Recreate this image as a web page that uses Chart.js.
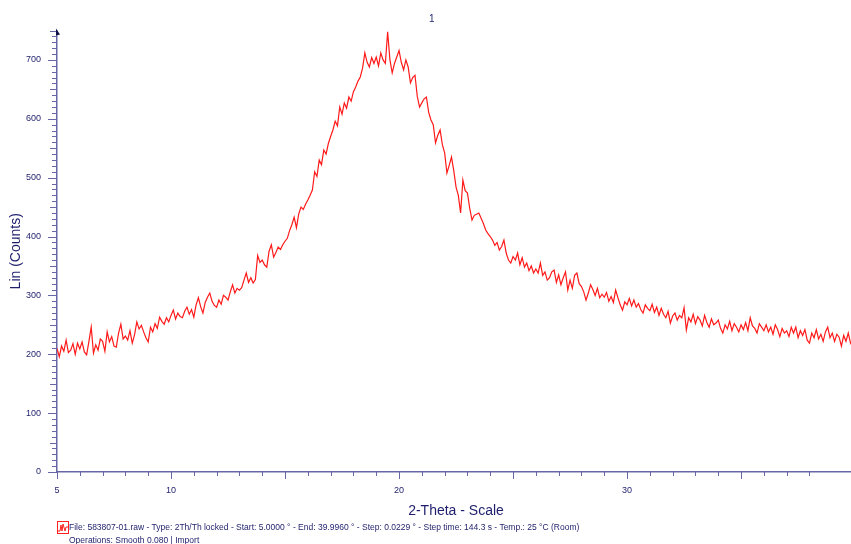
<!DOCTYPE html>
<html>
<head>
<meta charset="utf-8">
<script src="https://cdn.jsdelivr.net/npm/chart.js@4.4.1/dist/chart.umd.min.js"></script>
<style>
  body { margin: 0; overflow: hidden; background: #fff; }
  #wrap { position: relative; width: 851px; height: 544px; overflow: hidden; }
  #c { position: absolute; left: 0; top: 0; }
  .txt { position: absolute; font-family: 'Liberation Sans', Arial, sans-serif; color: #1e1e6c; white-space: nowrap; }
</style>
</head>
<body>
<div id="wrap">
  <canvas id="c" width="868" height="544"></canvas>
  <div class="txt" style="left:429px; top:13px; font-size:10px;">1</div>
  <svg style="position:absolute; left:57px; top:521px;" width="12" height="13">
    <rect x="0.5" y="0.5" width="11" height="12" fill="#fff" stroke="#ff2020"/>
    <polyline points="1,10 3,10 4,4 5,10 6,3 8,10 9,6 11,6" fill="none" stroke="#ff2020" stroke-width="1"/>
  </svg>
  <div class="txt" style="left:69px; top:522px; font-size:8.5px;">File: 583807-01.raw - Type: 2Th/Th locked - Start: 5.0000 ° - End: 39.9960 ° - Step: 0.0229 ° - Step time: 144.3 s - Temp.: 25 °C (Room)</div>
  <div class="txt" style="left:69px; top:535px; font-size:8.5px;">Operations: Smooth 0.080 | Import</div>
</div>
<script>
// scan settings
var startAngle = 5.0;
var stepAngle = 0.1;
var endAngle = 39.996;

// Lin (Counts), one value every 0.1 deg from 5.0
var counts = [
  210,196,214,205,224,203,207,218,200,219,
  209,221,204,199,222,246,202,216,207,226,
  222,205,238,221,230,214,212,236,251,226,
  231,224,240,219,233,255,243,249,238,228,
  221,246,238,252,244,263,256,251,262,255,
  266,275,260,270,264,262,273,280,268,276,
  263,284,296,281,270,288,297,304,290,283,
  280,292,285,300,297,292,306,318,304,312,
  309,313,326,338,322,330,321,327,368,356,
  360,352,348,375,386,365,373,382,378,386,
  392,397,410,420,433,415,438,450,446,455,
  462,470,479,510,502,530,522,547,540,558,
  570,581,596,588,620,608,627,618,637,630,
  646,654,664,671,686,712,696,688,704,694,
  705,690,712,700,694,748,700,678,694,705,
  716,696,683,700,688,661,670,674,638,620,
  627,634,637,611,598,590,559,572,581,556,
  542,508,521,535,512,484,470,440,496,478,
  474,448,428,436,438,440,431,422,411,405,
  400,394,385,390,377,383,394,372,360,355,
  366,360,372,352,364,348,355,342,350,338,
  345,338,355,334,340,326,330,340,343,322,
  335,318,330,340,309,326,312,334,338,320,
  315,306,292,304,318,310,300,312,296,302,
  297,305,290,298,288,309,296,284,275,289,
  284,295,282,292,280,286,276,270,284,278,
  274,285,271,280,266,278,268,262,273,253,
  265,270,258,266,262,279,241,262,255,268,
  252,264,258,248,266,254,246,260,250,253,
  258,244,236,250,243,256,240,252,246,238,
  250,242,254,240,262,248,244,236,252,246,
  240,250,238,246,234,250,242,230,244,236,
  240,230,246,236,246,228,240,232,242,224,
  219,236,228,242,226,234,222,238,246,228,
  236,222,234,229,214,232,222,236,219,212,
  226
];

var xLabels = [5, 10, 20, 30];
var yLabelStep = 100;

var axisColor = '#6767a6';
var textColor = '#1e1e6c';

var points = [];
for (var i = 0; i < counts.length; i++) {
  points.push({ x: Math.round((startAngle + i * stepAngle) * 1000) / 1000, y: counts[i] });
}

// tick marks drawn from the scales (long / short), plus the arrow on top of the y axis
var axisMarks = {
  id: 'axisMarks',
  afterDraw: function(chart) {
    var ctx = chart.ctx;
    var xs = chart.scales.x, ys = chart.scales.y;
    ctx.save();
    ctx.strokeStyle = axisColor;
    ctx.lineWidth = 1;
    ctx.beginPath();
    xs.ticks.forEach(function(t) {
      if (Math.abs(t.value - Math.round(t.value)) > 1e-6) return;
      var px = Math.round(xs.getPixelForValue(t.value)) + 0.5;
      var len = Math.round(t.value) % 5 === 0 ? 7 : 4;
      ctx.moveTo(px, xs.top);
      ctx.lineTo(px, xs.top + len);
    });
    ys.ticks.forEach(function(t) {
      var py = Math.round(ys.getPixelForValue(t.value)) + 0.5;
      var v = Math.round(t.value);
      var len = v % 100 === 0 ? 9 : (v % 50 === 0 ? 7 : 5);
      ctx.moveTo(ys.right - len, py);
      ctx.lineTo(ys.right, py);
    });
    ctx.stroke();
    var top = ys.getPixelForValue(ys.max);
    ctx.fillStyle = '#10104a';
    ctx.beginPath();
    ctx.moveTo(ys.right - 1, top - 2);
    ctx.lineTo(ys.right - 1, top + 5);
    ctx.lineTo(ys.right + 3, top + 4);
    ctx.closePath();
    ctx.fill();
    ctx.restore();
  }
};

Chart.defaults.font.family = "'Liberation Sans', Arial, sans-serif";
Chart.defaults.color = textColor;

new Chart(document.getElementById('c'), {
  type: 'line',
  data: {
    datasets: [{
      label: '583807-01.raw',
      data: points,
      borderColor: '#ff1a1a',
      borderWidth: 1.2,
      pointRadius: 0,
      tension: 0,
      fill: false
    }]
  },
  options: {
    responsive: false,
    animation: false,
    layout: { padding: { top: 30.5, right: 5, left: 0, bottom: 0 } },
    plugins: {
      legend: { display: false },
      tooltip: { enabled: false }
    },
    scales: {
      x: {
        type: 'linear',
        min: startAngle,
        max: endAngle,
        afterFit: function(scale) { scale.height = 72; },
        grid: { display: false, drawTicks: false, tickLength: 0 },
        border: { display: true, color: axisColor, width: 1.5 },
        ticks: {
          stepSize: 1,
          autoSkip: false,
          maxRotation: 0,
          padding: 13,
          font: { size: 9 },
          color: textColor,
          callback: function(v) { return xLabels.indexOf(v) >= 0 ? String(v) : ''; }
        },
        title: {
          display: true,
          text: '2-Theta - Scale',
          color: textColor,
          font: { size: 14 },
          padding: { top: 0, bottom: 24.5 }
        }
      },
      y: {
        min: 0,
        max: 750,
        afterFit: function(scale) { scale.width = 57; },
        grid: { display: false, drawTicks: false, tickLength: 0 },
        border: { display: true, color: axisColor, width: 1.5 },
        ticks: {
          stepSize: 10,
          autoSkip: false,
          padding: 16,
          font: { size: 9 },
          color: textColor,
          callback: function(v) { return v % yLabelStep === 0 ? String(v) : ''; }
        },
        title: {
          display: true,
          text: 'Lin (Counts)',
          color: textColor,
          font: { size: 14 },
          padding: { top: 8, bottom: 0 }
        }
      }
    }
  },
  plugins: [axisMarks]
});
</script>
</body>
</html>
